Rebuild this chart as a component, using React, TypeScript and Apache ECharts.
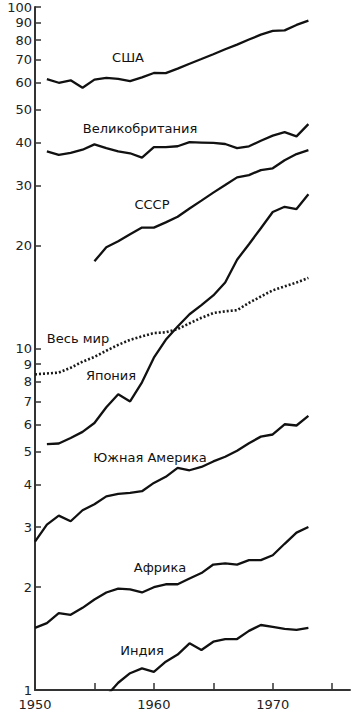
import React, { useEffect, useRef } from "react";
import * as echarts from "echarts";

const yearTicks = [1950, 1955, 1960, 1965, 1970, 1975];
const yearLabels = [1950, 1960, 1970];
const valueTicks = [1, 2, 3, 4, 5, 6, 7, 8, 9, 10, 20, 30, 40, 50, 60, 70, 80, 90, 100];

const usaStart = 1951;
const usa = [61.5, 60.0, 61.0, 58.0, 61.3, 62.0, 61.6, 60.7, 62.2, 64.1, 64.0, 66.0, 68.2, 70.4, 72.7, 75.2, 77.6, 80.3, 83.0, 85.1, 85.4, 88.6, 91.2];
const ukStart = 1951;
const uk = [37.8, 36.9, 37.4, 38.2, 39.6, 38.6, 37.8, 37.3, 36.2, 38.9, 38.9, 39.1, 40.2, 40.1, 40.0, 39.7, 38.6, 39.1, 40.6, 42.0, 43.0, 41.8, 45.4];
const ussrStart = 1955;
const ussr = [18.0, 19.8, 20.6, 21.6, 22.6, 22.6, 23.4, 24.3, 25.7, 27.1, 28.6, 30.1, 31.7, 32.2, 33.3, 33.7, 35.6, 37.1, 38.1];
const japanStart = 1951;
const japan = [5.25, 5.27, 5.47, 5.7, 6.05, 6.73, 7.35, 7.0, 7.96, 9.4, 10.6, 11.6, 12.6, 13.4, 14.3, 15.6, 18.2, 20.2, 22.5, 25.1, 26.0, 25.6, 28.3];
const worldStart = 1950;
const world = [8.4, 8.45, 8.5, 8.78, 9.15, 9.45, 9.85, 10.25, 10.6, 10.85, 11.1, 11.15, 11.4, 11.85, 12.3, 12.7, 12.85, 12.95, 13.6, 14.2, 14.8, 15.2, 15.6, 16.1];
const samStart = 1950;
const southAmerica = [2.72, 3.05, 3.24, 3.12, 3.36, 3.5, 3.69, 3.75, 3.78, 3.82, 4.04, 4.21, 4.47, 4.4, 4.5, 4.67, 4.82, 5.02, 5.28, 5.52, 5.6, 6.0, 5.95, 6.35];
const africaStart = 1950;
const africa = [1.52, 1.57, 1.68, 1.66, 1.74, 1.84, 1.93, 1.98, 1.97, 1.93, 2.0, 2.04, 2.04, 2.12, 2.2, 2.33, 2.35, 2.33, 2.4, 2.4, 2.48, 2.68, 2.89, 3.0];
const indiaStart = 1956;
const india = [0.96, 1.05, 1.12, 1.157, 1.13, 1.21, 1.27, 1.37, 1.31, 1.385, 1.41, 1.41, 1.49, 1.55, 1.53, 1.51, 1.5, 1.52];

const seriesNames = ["США", "Великобритания", "СССР", "Весь мир", "Япония", "Южная Америка", "Африка", "Индия"];

const FONT = "'DejaVu Sans', Verdana, sans-serif";

function pairs(start: number, vals: number[]) {
  return vals.map((v, i) => [start + i, v]);
}

export default function App() {
  const ref = useRef<HTMLDivElement>(null);
  useEffect(() => {
    if (!ref.current) return;
    const chart = echarts.init(ref.current, undefined, { renderer: "svg" });
    const solid = { color: "#111", width: 2.3, type: "solid" as const };
    const mk = (name: string, data: number[][], dotted = false) => ({
      name,
      type: "line",
      data,
      showSymbol: false,
      symbol: "none",
      clip: true,
      lineStyle: dotted ? { color: "#1a1a1a", width: 2.6, type: [2, 2], cap: "butt" } : solid,
    });
    const label = (text: string, x: number, y: number) => ({
      type: "text",
      x,
      y,
      style: { text, fill: "#111", font: `13px ${FONT}`, textAlign: "center", textVerticalAlign: "middle" },
    });
    chart.setOption({
      animation: false,
      backgroundColor: "#fff",
      grid: { left: 35, right: 6, top: 7, bottom: 23 },
      xAxis: {
        type: "value",
        min: 1950,
        max: 1976.5,
        axisLine: { show: true, lineStyle: { color: "#333", width: 2 } },
        axisTick: { show: true, inside: true, length: 7, customValues: yearTicks, lineStyle: { color: "#333", width: 1.5 } },
        axisLabel: { customValues: yearLabels, margin: 8, color: "#222", fontSize: 13, fontFamily: FONT, formatter: (v: number) => String(v) },
        splitLine: { show: false },
      },
      yAxis: {
        type: "log",
        logBase: 10,
        min: 1,
        max: 100,
        axisLine: { show: true, lineStyle: { color: "#333", width: 2 } },
        axisTick: { show: true, inside: true, length: 6, customValues: valueTicks, lineStyle: { color: "#333", width: 1.5 } },
        axisLabel: { customValues: valueTicks, margin: 3, color: "#222", fontSize: 13, fontFamily: FONT, formatter: (v: number) => String(Math.round(v)) },
        splitLine: { show: false },
        minorTick: { show: false },
      },
      series: [
        mk(seriesNames[0], pairs(usaStart, usa)),
        mk(seriesNames[1], pairs(ukStart, uk)),
        mk(seriesNames[2], pairs(ussrStart, ussr)),
        mk(seriesNames[3], pairs(worldStart, world), true),
        mk(seriesNames[4], pairs(japanStart, japan)),
        mk(seriesNames[5], pairs(samStart, southAmerica)),
        mk(seriesNames[6], pairs(africaStart, africa)),
        mk(seriesNames[7], pairs(indiaStart, india)),
      ],
      graphic: [
        label(seriesNames[0], 128, 57),
        label(seriesNames[1], 140, 128),
        label(seriesNames[2], 152, 204),
        label(seriesNames[3], 78, 338),
        label(seriesNames[4], 111, 375),
        label(seriesNames[5], 150, 457),
        label(seriesNames[6], 160, 567),
        label(seriesNames[7], 142, 650),
      ],
    });
    return () => chart.dispose();
  }, []);
  return (
    <div
      ref={ref}
      style={{ position: "fixed", left: 0, top: 0, width: 356, height: 713, background: "#fff" }}
    />
  );
}
